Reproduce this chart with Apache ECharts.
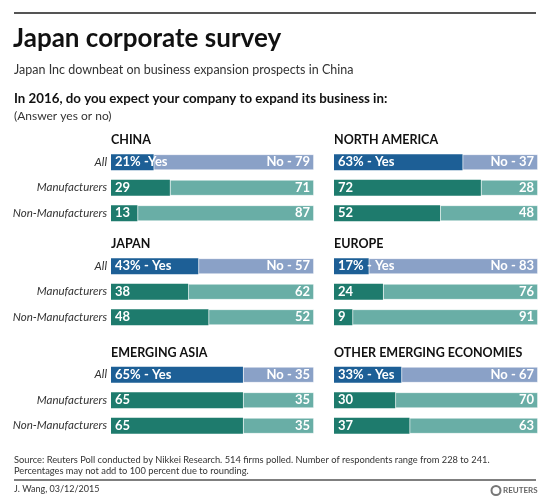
<!DOCTYPE html>
<html>
<head>
<meta charset="utf-8">
<script src="https://cdn.jsdelivr.net/npm/echarts@6/dist/echarts.min.js"></script>
<style>
html,body{margin:0;padding:0;background:#fff;}
#c{width:550px;height:500px;}
</style>
</head>
<body>
<div id="c"></div>
<script>
var regions = ['CHINA', 'NORTH AMERICA', 'JAPAN', 'EUROPE', 'EMERGING ASIA', 'OTHER EMERGING ECONOMIES'];
var groups = ['All', 'Manufacturers', 'Non-Manufacturers'];
var yesValues = [[21, 29, 13], [63, 72, 52], [43, 38, 48], [17, 24, 9], [65, 65, 65], [33, 30, 37]];
var noValues = [[79, 71, 87], [37, 28, 48], [57, 62, 52], [83, 76, 91], [35, 35, 35], [67, 70, 63]];
var yesAllLabels = ['21% -Yes', '63% - Yes', '43% - Yes', '17% - Yes', '65% - Yes', '33% - Yes'];
var noAllLabels = ['No - 79', 'No - 37', 'No - 57', 'No - 83', 'No - 35', 'No - 67'];

var FONT = 'Lato, "Source Sans Pro", sans-serif';
var C = {
  yesAll: '#1d5f96', noAll: '#8aa1c7',
  yes: '#1e7b6d', no: '#69aea6'
};

var colLeft = [111, 334];
var colWidth = [203, 204];
var rowTop = [149.5, 253.5, 362];
var gridH = 76.5;

var grids = [], xAxes = [], yAxes = [], series = [], graphics = [];

regions.forEach(function (reg, i) {
  var col = i % 2, row = Math.floor(i / 2);
  grids.push({ left: colLeft[col], top: rowTop[row], width: colWidth[col], height: gridH, containLabel: false });
  xAxes.push({ type: 'value', gridIndex: i, min: 0, max: 100, show: false });
  yAxes.push({
    type: 'category', gridIndex: i, data: groups, inverse: true,
    axisLine: { show: false }, axisTick: { show: false }, splitLine: { show: false },
    axisLabel: { show: col === 0, fontFamily: FONT, fontStyle: 'italic', fontSize: 11.5, color: '#333', margin: 4 }
  });
  series.push({
    type: 'bar', name: 'Yes', xAxisIndex: i, yAxisIndex: i, stack: 's' + i, barWidth: 16,
    data: yesValues[i].map(function (v, k) {
      return { value: v, itemStyle: { color: k === 0 ? C.yesAll : C.yes } };
    }),
    label: {
      show: true, position: 'insideLeft', distance: 4, color: '#fff', fontFamily: FONT, fontSize: 13, fontWeight: 'bold',
      formatter: function (p) { return p.dataIndex === 0 ? yesAllLabels[i] : String(p.value); }
    },
    z: 3
  });
  series.push({
    type: 'bar', name: 'No', xAxisIndex: i, yAxisIndex: i, stack: 's' + i, barWidth: 16,
    data: noValues[i].map(function (v, k) {
      return { value: v, itemStyle: { color: k === 0 ? C.noAll : C.no } };
    }),
    itemStyle: { borderColor: 'rgba(255,255,255,0.7)', borderWidth: 0.8 },
    label: {
      show: true, position: 'insideRight', distance: 4, color: '#fff', fontFamily: FONT, fontSize: 13, fontWeight: 'bold',
      formatter: function (p) { return p.dataIndex === 0 ? noAllLabels[i] : String(p.value); }
    },
    z: 2
  });
  graphics.push({
    type: 'text', left: colLeft[col], top: rowTop[row] - 16,
    style: { text: reg, fontFamily: FONT, fontSize: 12.5, fontWeight: 'bold', fill: '#111' }
  });
});

graphics.push(
  { type: 'line', shape: { x1: 14, y1: 13, x2: 536, y2: 13 }, style: { stroke: '#555', lineWidth: 2 } },
  { type: 'text', left: 13, top: 26, style: { text: 'Japan corporate survey', fontFamily: FONT, fontSize: 26, fontWeight: 'bold', fill: '#111' } },
  { type: 'text', left: 14, top: 63, style: { text: 'Japan Inc downbeat on business expansion prospects in China', fontFamily: FONT, fontSize: 12.5, fill: '#333' } },
  { type: 'text', left: 14, top: 92, style: { text: 'In 2016, do you expect your company to expand its business in:', fontFamily: FONT, fontSize: 13.3, fontWeight: 'bold', fill: '#111' } },
  { type: 'text', left: 14, top: 110, style: { text: '(Answer yes or no)', fontFamily: FONT, fontSize: 12, fill: '#333' } },
  { type: 'text', left: 14, top: 454, style: { text: 'Source: Reuters Poll conducted by Nikkei Research. 514 firms polled. Number of respondents range from 228 to 241.\nPercentages may not add to 100 percent due to rounding.', fontFamily: FONT, fontSize: 9.3, lineHeight: 11.5, fill: '#333' } },
  { type: 'line', shape: { x1: 14, y1: 480, x2: 536, y2: 480 }, style: { stroke: '#555', lineWidth: 1.5 } },
  { type: 'text', left: 14, top: 485, style: { text: 'J. Wang, 03/12/2015', fontFamily: FONT, fontSize: 9, fill: '#333' } },
  { type: 'circle', shape: { cx: 496, cy: 490.5, r: 4.5 }, style: { fill: '#fff', stroke: '#777', lineWidth: 2 } },
  { type: 'text', left: 503, top: 486, style: { text: 'REUTERS', fontFamily: FONT, fontSize: 8, fontWeight: 'bold', fill: '#666' } }
);

var chart = echarts.init(document.getElementById('c'), null, { renderer: 'canvas' });
chart.setOption({
  animation: false,
  backgroundColor: '#fff',
  grid: grids,
  xAxis: xAxes,
  yAxis: yAxes,
  series: series,
  graphic: graphics
});
</script>
</body>
</html>
